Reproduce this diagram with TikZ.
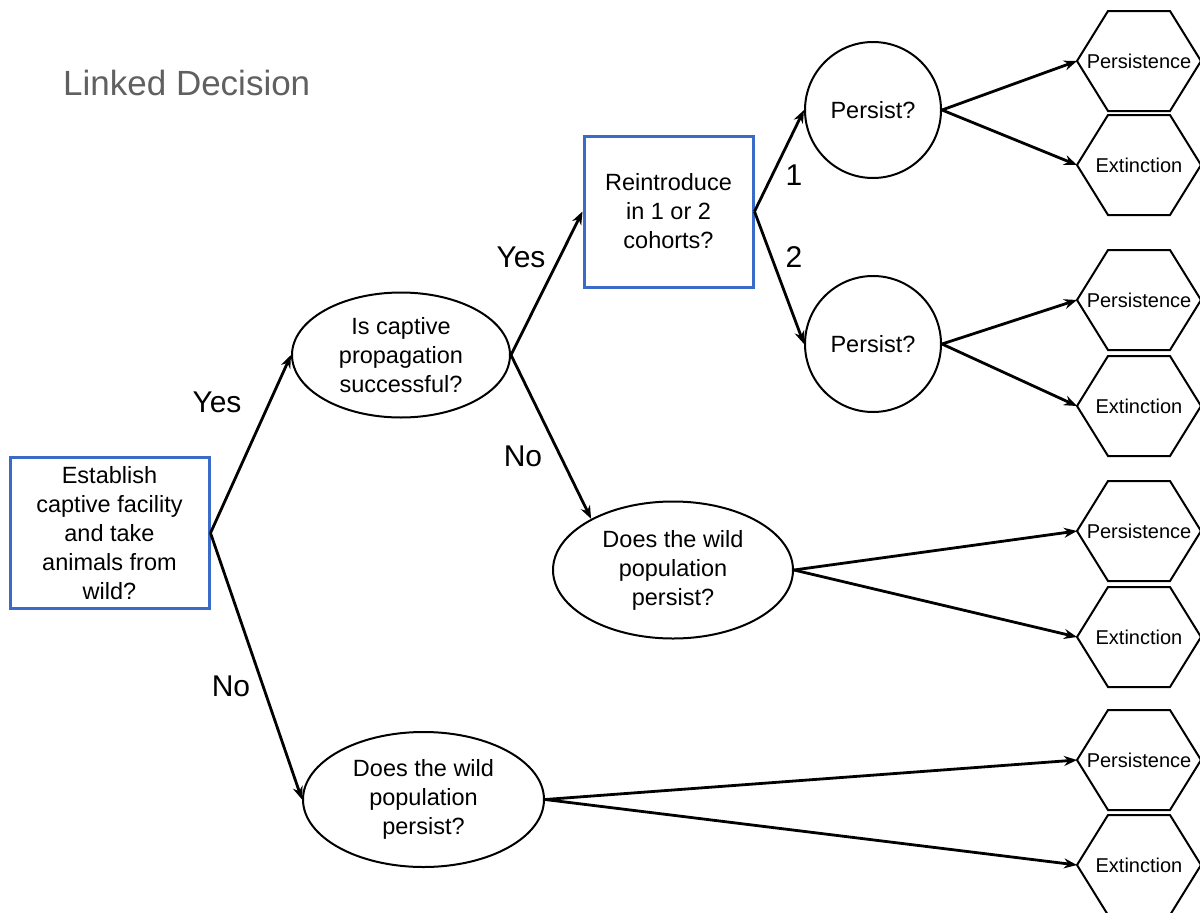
\documentclass[tikz,border=0pt]{standalone}
\usepackage{fontspec}
\setmainfont{Liberation Sans}
\usetikzlibrary{shapes.geometric,arrows.meta}
\definecolor{boxblue}{HTML}{3A6BC8}
\definecolor{titlegray}{HTML}{606060}
\tikzset{
  txt/.style={font=\fontsize{23.5}{29}\selectfont, align=center, inner sep=0pt},
  decbox/.style={txt, draw=boxblue, line width=3pt, rectangle},
  chance/.style={txt, draw=black, line width=2pt, ellipse},
  circ/.style={txt, draw=black, line width=2pt, circle},
  hexlbl/.style={font=\fontsize{20}{24}\selectfont, inner sep=0pt},
  hexline/.style={draw=black, line width=2pt, line join=miter},
  conn/.style={line width=2.8pt, -{Stealth[length=13pt,width=10pt]}},
  lbl/.style={font=\fontsize{30}{36}\selectfont, inner sep=0pt},
}
\newcommand\hexa[3]{%
  \node[hexlbl] (#1) at (1139,#2) {#3};
  \draw[hexline] (1077,#2) -- (1108,#2-50) -- (1170,#2-50) -- (1201,#2) -- (1170,#2+50) -- (1108,#2+50) -- cycle;
  \coordinate (#1w) at (1077,#2);
}
\begin{document}
\begin{tikzpicture}[x=1pt,y=-1pt]
\useasboundingbox (0,0) rectangle (1200,913);
\node[anchor=base west, font=\fontsize{35}{42}\selectfont, text=titlegray, inner sep=0pt] (title) at (63,95) {Linked Decision};

\node[decbox, minimum width=199, minimum height=151] (est) at (109.5,533) {Establish\\captive facility\\and take\\animals from\\wild?};
\node[decbox, minimum width=169, minimum height=151] (rei) at (668.5,211.5) {Reintroduce\\in 1 or 2\\cohorts?};

\node[chance, minimum width=218, minimum height=125] (cap) at (401,355) {Is captive\\propagation\\successful?};
\node[chance, minimum width=240, minimum height=137] (wildA) at (673,570) {Does the wild\\population\\persist?};
\node[chance, minimum width=241, minimum height=135] (wildB) at (423.5,799.5) {Does the wild\\population\\persist?};

\node[circ, minimum size=136] (p1) at (873,110) {Persist?};
\node[circ, minimum size=136] (p2) at (873,344) {Persist?};

\hexa{h1}{61}{Persistence}
\hexa{h2}{165}{Extinction}
\hexa{h3}{300}{Persistence}
\hexa{h4}{406}{Extinction}
\hexa{h5}{531}{Persistence}
\hexa{h6}{637}{Extinction}
\hexa{h7}{760}{Persistence}
\hexa{h8}{865}{Extinction}

\draw[conn] (est.east) -- (cap.west);
\draw[conn] (est.east) -- (wildB.west);
\draw[conn] (cap.east) -- (rei.west);
\draw[conn] (cap.east) -- (wildA.148);
\draw[conn] (rei.east) -- (p1.west);
\draw[conn] (rei.east) -- (p2.west);
\draw[conn] (p1.east) -- (h1w);
\draw[conn] (p1.east) -- (h2w);
\draw[conn] (p2.east) -- (h3w);
\draw[conn] (p2.east) -- (h4w);
\draw[conn] (wildA.east) -- (h5w);
\draw[conn] (wildA.east) -- (h6w);
\draw[conn] (wildB.east) -- (h7w);
\draw[conn] (wildB.east) -- (h8w);

\node[lbl] (y1) at (217,402) {Yes};
\node[lbl] (n1) at (231,686) {No};
\node[lbl] (y2) at (521,257) {Yes};
\node[lbl] (n2) at (523,456) {No};
\node[lbl] (one) at (794,175) {1};
\node[lbl] (two) at (794,257) {2};
\end{tikzpicture}
\end{document}
